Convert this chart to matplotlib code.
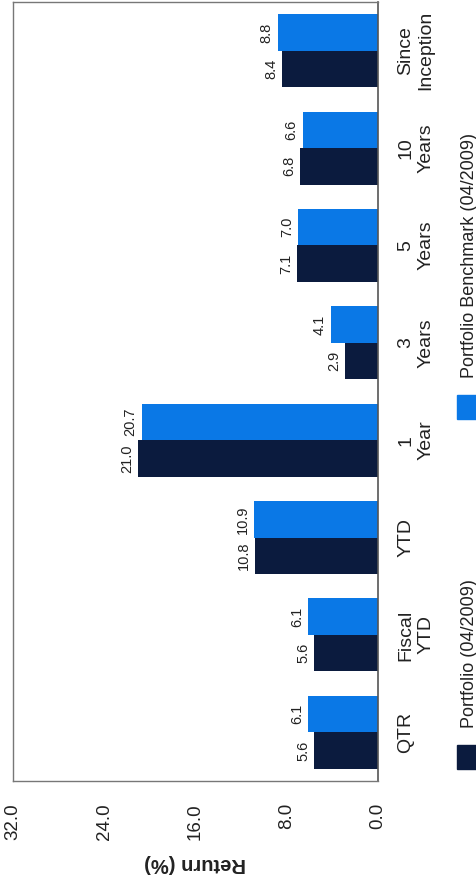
import matplotlib
matplotlib.use("Agg")
import matplotlib.pyplot as plt
from matplotlib.patches import Rectangle
import numpy as np

plt.rcParams['font.family'] = ['Liberation Sans', 'DejaVu Sans']

categories = ["QTR", "Fiscal\nYTD", "YTD", "1\nYear", "3\nYears",
              "5\nYears", "10\nYears", "Since\nInception"]
portfolio = [5.6, 5.6, 10.8, 21.0, 2.9, 7.1, 6.8, 8.4]
benchmark = [6.1, 6.1, 10.9, 20.7, 4.1, 7.0, 6.6, 8.8]
ticks = [0, 8, 16, 24, 32]
tick_labels = ["0.0", "8.0", "16.0", "24.0", "32.0"]
series_names = ["Portfolio (04/2009)", "Portfolio Benchmark (04/2009)"]

dark = "#0b1b3e"
light = "#0a78e6"

W, H = 477, 881
fig = plt.figure(figsize=(W / 100, H / 100), dpi=100)
ax = fig.add_axes([13 / W, 100 / H, 365 / W, 779 / H])

# chart is laid out sideways: bars grow to the left, text reads upward
y = np.arange(len(categories))
h = 0.375
b1 = ax.barh(y - h / 2, portfolio, height=h, color=dark)
b2 = ax.barh(y + h / 2, benchmark, height=h, color=light)

for bars, vals in ((b1, portfolio), (b2, benchmark)):
    for bar, v in zip(bars, vals):
        ax.annotate(f"{v:.1f}", (v, bar.get_y() + bar.get_height() / 2),
                    xytext=(-3, 0), textcoords="offset points",
                    rotation=90, ha="right", va="center",
                    fontsize=10.5, color="#222222")

ax.set_xlim(32, 0)
ax.set_ylim(-0.5, len(categories) - 0.5)

ax.set_xticks(ticks)
ax.set_xticklabels(tick_labels, rotation=90, fontsize=13.5, color="#222222")
ax.tick_params(axis="x", length=0, pad=16)

ax.yaxis.tick_right()
ax.set_yticks(y)
ax.set_yticklabels(categories, rotation=90, fontsize=14, color="#222222",
                   ha="left", va="center", multialignment="center")
ax.tick_params(axis="y", length=0, pad=14)

for side in ("left", "top", "bottom"):
    ax.spines[side].set_color("#777777")
    ax.spines[side].set_linewidth(1.0)
ax.spines["right"].set_color("#555555")
ax.spines["right"].set_linewidth(1.2)

fig.text(195 / W, 1 - 863 / H, "Return (%)", rotation=180, fontsize=14.5,
         fontweight="bold", ha="center", va="center", color="#222222")

# legend drawn by hand so it can sit rotated along the right edge
for color, name, y_sq in ((dark, series_names[0], 745),
                          (light, series_names[1], 395)):
    fig.add_artist(Rectangle((457 / W, 1 - (y_sq + 24) / H), 24 / W, 24 / H,
                             transform=fig.transFigure, color=color,
                             clip_on=False))
    fig.text(470 / W, 1 - (y_sq - 17) / H, name, rotation=90, fontsize=13,
             ha="center", va="bottom", color="#222222")

fig.savefig("out.png", dpi=100)
